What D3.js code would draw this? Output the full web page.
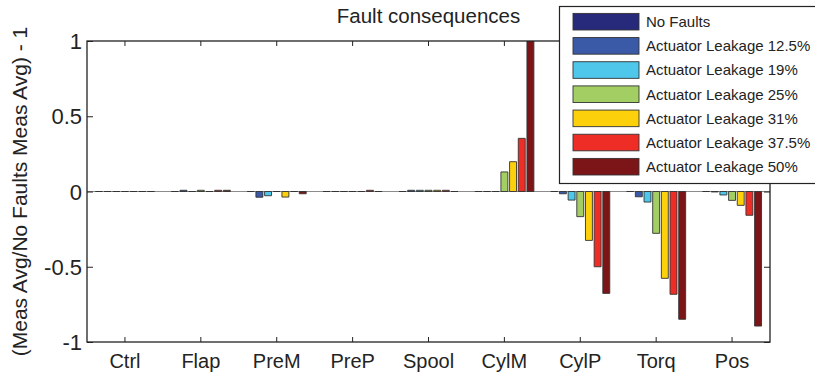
<!DOCTYPE html>
<html>
<head>
<meta charset="utf-8">
<script src="https://cdn.jsdelivr.net/npm/d3@7/dist/d3.min.js"></script>
<style>
  html, body { margin: 0; padding: 0; background: #fff; }
  svg { display: block; font-family: "Liberation Sans", Arial, Helvetica, sans-serif; }
</style>
</head>
<body>
<svg id="chart" width="815" height="375"></svg>
<script>
// Measured quantity per category, relative to the fault-free average
const categories = ["Ctrl", "Flap", "PreM", "PreP", "Spool", "CylM", "CylP", "Torq", "Pos"];
const seriesNames = [
  "No Faults",
  "Actuator Leakage 12.5%",
  "Actuator Leakage 19%",
  "Actuator Leakage 25%",
  "Actuator Leakage 31%",
  "Actuator Leakage 37.5%",
  "Actuator Leakage 50%"
];
const noFaults  = [0, 0,     0,      0,     0,     0,     0,      0,      0];
const leak125   = [0, 0.008, -0.038, 0,     0.008, 0,     -0.015, -0.035, -0.003];
const leak19    = [0, 0,     -0.028, 0,     0.008, 0,     -0.057, -0.070, -0.023];
const leak25    = [0, 0.008, 0,      0,     0.008, 0.130, -0.167, -0.278, -0.059];
const leak31    = [0, 0,     -0.037, 0,     0.008, 0.198, -0.325, -0.577, -0.092];
const leak375   = [0, 0.008, 0,      0.008, 0.008, 0.353, -0.500, -0.683, -0.158];
const leak50    = [0, 0.008, -0.015, 0,     0,     1.000, -0.677, -0.849, -0.894];
const seriesValues = [noFaults, leak125, leak19, leak25, leak31, leak375, leak50];
const seriesColors = ["#272a7b", "#3a5aa8", "#4ec7ea", "#a3ce63", "#fdd00c", "#ee2e26", "#7b1517"];
const yTicks = [-1, -0.5, 0, 0.5, 1];
const yTickLabels = ["-1", "-0.5", "0", "0.5", "1"];

const svg = d3.select("#chart");
const plotL = 87, plotR = 770, plotT = 41, plotB = 342;
const ink = "#232323";

const x = d3.scaleBand().domain(categories).range([plotL, plotR]).paddingInner(0).paddingOuter(0);
const bw = x.bandwidth();
const xs = d3.scaleBand().domain(d3.range(seriesNames.length))
  .range([-0.4 * bw, 0.4 * bw]).paddingInner(0.2).paddingOuter(0.1);
const y = d3.scaleLinear().domain([-1, 1]).range([plotB, plotT]);

const rows = [];
seriesValues.forEach((vals, si) => vals.forEach((v, ci) => rows.push({ si, cat: categories[ci], v })));

const plot = svg.append("g");
plot.append("defs").append("clipPath").attr("id", "plotclip")
  .append("rect").attr("x", plotL - 1).attr("y", plotT).attr("width", plotR - plotL + 2).attr("height", plotB - plotT);

// zero baseline
plot.append("line")
  .attr("x1", plotL).attr("x2", plotR).attr("y1", y(0)).attr("y2", y(0))
  .attr("stroke", "#8c8c8c").attr("stroke-width", 1);

// bars as closed paths, so zero-height bars still show their outline
plot.append("g").attr("clip-path", "url(#plotclip)")
  .selectAll("path").data(rows).join("path")
  .attr("d", d => {
    const x0 = x(d.cat) + bw / 2 + xs(d.si), x1 = x0 + xs.bandwidth();
    const y0 = y(0), y1 = y(d.v);
    return `M${x0},${y0}H${x1}V${y1}H${x0}Z`;
  })
  .attr("fill", d => seriesColors[d.si])
  .attr("stroke", "#333").attr("stroke-width", 0.9);

// axes box with inward ticks on all four sides
const axLeft = d3.axisRight(y).tickValues(yTicks).tickSize(6).tickFormat("");
const axRight = d3.axisLeft(y).tickValues(yTicks).tickSize(6).tickFormat("");
const axBottom = d3.axisTop(x).tickSize(5).tickFormat("");
const axTop = d3.axisBottom(x).tickSize(5).tickFormat("");
function style(g) {
  g.selectAll(".domain").remove();
  g.selectAll("line").attr("stroke", ink).attr("stroke-width", 1);
}
svg.append("g").attr("transform", `translate(${plotL},0)`).call(axLeft).call(style);
svg.append("g").attr("transform", `translate(${plotR},0)`).call(axRight).call(style);
svg.append("g").attr("transform", `translate(0,${plotB})`).call(axBottom).call(style);
svg.append("g").attr("transform", `translate(0,${plotT})`).call(axTop).call(style);
svg.append("rect").attr("x", plotL).attr("y", plotT).attr("width", plotR - plotL).attr("height", plotB - plotT)
  .attr("fill", "none").attr("stroke", ink).attr("stroke-width", 1.3);

// tick labels
svg.append("g").selectAll("text").data(yTicks).join("text")
  .attr("x", plotL - 5).attr("y", d => y(d) + 8)
  .attr("text-anchor", "end").attr("font-size", 22).attr("fill", ink)
  .text((d, i) => yTickLabels[i]);
svg.append("g").selectAll("text").data(categories).join("text")
  .attr("x", d => x(d) + bw / 2).attr("y", 368)
  .attr("text-anchor", "middle").attr("font-size", 20).attr("fill", ink)
  .text(d => d);

// title and y label
svg.append("text").attr("x", (plotL + plotR) / 2).attr("y", 23)
  .attr("text-anchor", "middle").attr("font-size", 20.5).attr("fill", ink)
  .text("Fault consequences");
svg.append("text").attr("transform", `translate(27,${(plotT + plotB) / 2}) rotate(-90)`)
  .attr("text-anchor", "middle").attr("font-size", 21).attr("fill", ink)
  .text("(Meas Avg/No Faults Meas Avg) - 1");

// legend
const lg = svg.append("g");
lg.append("rect").attr("x", 559.5).attr("y", 6.5).attr("width", 262).attr("height", 177)
  .attr("fill", "#fff").attr("stroke", ink).attr("stroke-width", 1.2);
const ly = d3.scalePoint().domain(seriesNames).range([21.7, 166.7]);
lg.selectAll("rect.sw").data(seriesNames).join("rect").attr("class", "sw")
  .attr("x", 573).attr("y", d => ly(d) - 8.3).attr("width", 66).attr("height", 16.6)
  .attr("fill", (d, i) => seriesColors[i]).attr("stroke", "#333").attr("stroke-width", 0.9);
lg.selectAll("text").data(seriesNames).join("text")
  .attr("x", 646).attr("y", d => ly(d) + 5.3)
  .attr("font-size", 15).attr("fill", ink)
  .text(d => d);
</script>
</body>
</html>
